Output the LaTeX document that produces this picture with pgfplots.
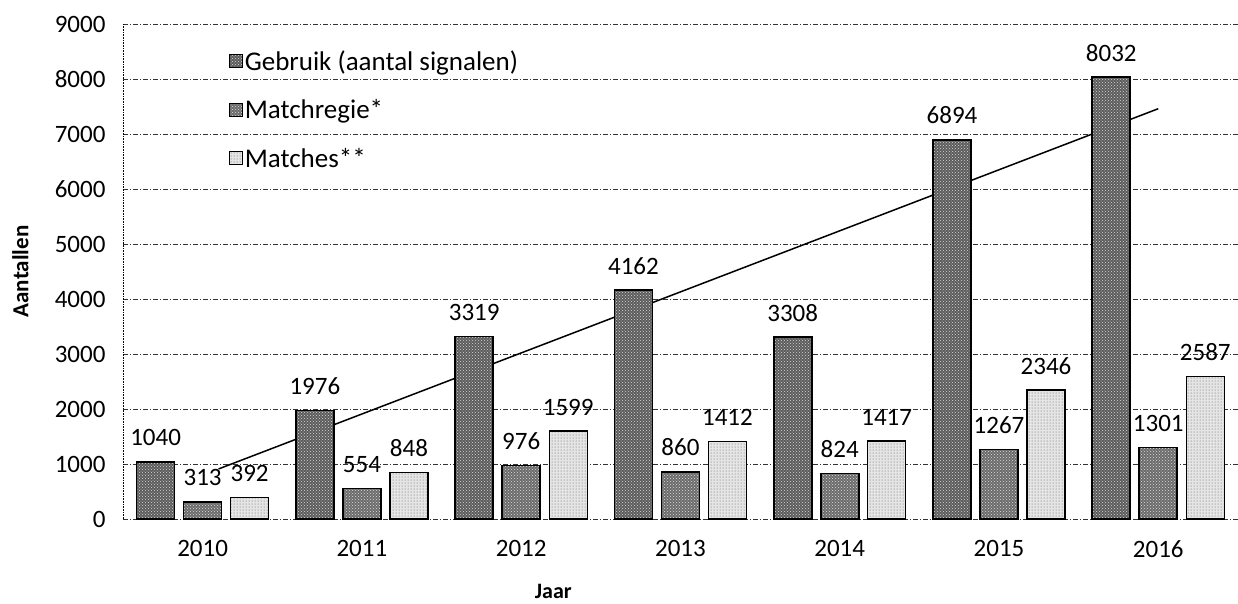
\documentclass[border=0pt]{standalone}
\usepackage{fontspec}
\setmainfont{Carlito}
\usepackage{pgfplots}
\pgfplotsset{compat=1.18}
\usetikzlibrary{patterns}
\definecolor{darkbar}{gray}{0.36}
\definecolor{midbar}{gray}{0.42}
\definecolor{lightbar}{gray}{0.90}
\pgfkeys{/pgf/number format/.cd,1000 sep={},assume math mode=true}
\begin{document}
\begin{tikzpicture}
\useasboundingbox (0,0) rectangle (1238pt,603pt);
\begin{axis}[
  at={(123pt,84pt)}, anchor=south west,
  scale only axis, width=1115pt, height=495pt,
  xmin=-0.5, xmax=6.5, ymin=0, ymax=9000,
  enlargelimits=false,
  xtick={0,1,2,3,4,5,6},
  xticklabels={2010,2011,2012,2013,2014,2015,2016},
  ytick={0,1000,2000,3000,4000,5000,6000,7000,8000,9000},
  scaled y ticks=false,
  axis lines*=left,
  x axis line style={draw=none},
  y axis line style={black, densely dotted, line width=0.6pt},
  ymajorgrids,
  major grid style={black!80, dash pattern=on 5pt off 2pt on 1pt off 2pt, line width=0.6pt},
  tick style={draw=none},
  ticklabel style={font=\fontsize{25}{30}\selectfont},
  yticklabel style={xshift=-14pt},
  xticklabel style={yshift=-18pt},
  ylabel={Aantallen}, xlabel={Jaar},
  ylabel style={font=\bfseries\fontsize{23}{28}\selectfont, at={(axis description cs:-0.092,0.5)}, anchor=center},
  xlabel style={font=\bfseries\fontsize{22}{26}\selectfont, at={(axis description cs:0.386,-0.147)}, anchor=center},
  legend style={at={(axis description cs:0.092,0.955)}, anchor=north west, draw=none, fill=none,
    font=\fontsize{27}{32}\selectfont, row sep=24pt, legend cell align=left,
    /tikz/every even column/.append style={column sep=2pt}},
  legend image code/.code={\draw[#1, line width=1pt] (0pt,-6pt) rectangle (13pt,7pt);},
  every node near coord/.append style={font=\fontsize{25}{30}\selectfont, black, inner sep=0pt, yshift=15pt},
]
\addplot[black, line width=1.5pt, forget plot] coordinates {(0.1,910) (6,7460)};
\addplot[ybar, bar width=38pt, bar shift=-47pt, draw=black, line width=1.6pt, fill=darkbar,
  postaction={pattern=crosshatch dots, pattern color=white!70!gray}, nodes near coords,
  every node near coord/.append style={xshift=-47pt}]
  coordinates {(0,1040) (1,1976) (2,3319) (3,4162) (4,3308) (5,6894) (6,8032)};
\addplot[ybar, bar width=38pt, bar shift=0pt, draw=black, line width=1.6pt, fill=midbar,
  postaction={pattern=crosshatch dots, pattern color=white!75!gray}, nodes near coords]
  coordinates {(0,313) (1,554) (2,976) (3,860) (4,824) (5,1267) (6,1301)};
\addplot[ybar, bar width=38pt, bar shift=47pt, draw=black, line width=1.3pt, fill=lightbar,
  postaction={pattern=dots, pattern color=gray!70!black}, nodes near coords,
  every node near coord/.append style={xshift=47pt}]
  coordinates {(0,392) (1,848) (2,1599) (3,1412) (4,1417) (5,2346) (6,2587)};
\legend{Gebruik (aantal signalen),Matchregie*,Matches**}
\end{axis}
\end{tikzpicture}
\end{document}
